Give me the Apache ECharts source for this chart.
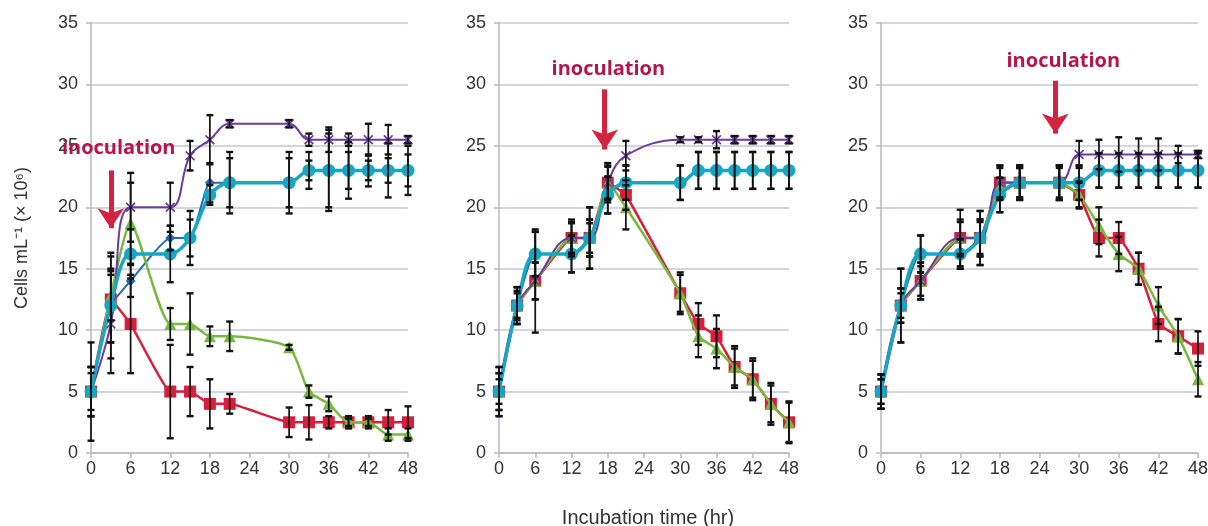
<!DOCTYPE html>
<html>
<head>
<meta charset="utf-8">
<script src="https://cdn.jsdelivr.net/npm/echarts@6/dist/echarts.min.js"></script>
<style>html,body{margin:0;padding:0;background:#fff}#c{width:1208px;height:526px}</style>
</head>
<body>
<div id="c"></div>
<script>
// ---------- data ----------
const hours1 = [0,3,6,12,15,18,21,30,33,36,39,42,45,48];
const hours2 = [0,3,6,12,15,18,21,30,33,36,39,42,45,48];
const hours3 = [0,3,6,12,15,18,21,27,30,33,36,39,42,45,48];

// panel 1
const blue1   = [5,12,14,17.5,17.5,22,22,22,23,23,23,23,23,23];
const red1    = [5,12.5,10.5,5,5,4,4,2.5,2.5,2.5,2.5,2.5,2.5,2.5];
const green1  = [5,12.8,18.7,10.5,10.5,9.5,9.5,8.6,5,4,2.5,2.5,1.5,1.5];
const purple1 = [5,10.5,20,20,24.2,25.5,26.8,26.8,25.5,25.5,25.5,25.5,25.5,25.5];
const cyan1   = [5,12,16.2,16.2,17.5,21,22,22,23,23,23,23,23,23];
const blueErr1   = [2,3,1.3,1,1.5,1.6,2,2,0.8,3,1.5,0.8,1,1.3];
const redErr1    = [4,3.5,4,3.8,2,2,0.8,1.2,1.4,0.5,0.5,0.5,1,1.3];
const greenErr1  = [2,2,3.3,1.3,2.5,0.8,1.2,0.2,0.5,0.6,0.3,0.3,0.5,0.5];
const purpleErr1 = [2,4,2.8,2,1.2,2,0.3,0.3,0.5,1,0.5,1.3,1.2,0.3];
const cyanErr1   = [1.5,4.3,2,2.3,2.2,0.8,2.5,2.5,1.5,3.3,2.3,1.3,2.2,2];

// panel 2
const blue2   = [5,12,16.2,16.2,17.5,21,22,22,23,23,23,23,23,23];
const red2    = [5,12,14,17.5,17.5,22,21,13,10.5,9.5,7,6,4,2.5];
const green2  = [5,12,14,17.5,17.5,22,20,13,9.5,8.5,7,6,4,2.5];
const purple2 = [5,12,14,17.5,17.5,22,24.2,25.5,25.5,25.5,25.5,25.5,25.5,25.5];
const cyan2   = [5,12,16.2,16.2,17.5,21,22,22,23,23,23,23,23,23];
const blueErr2   = [2,1.5,1.8,1.5,2.5,1.5,1.4,1.4,1.5,1.5,1.5,1.5,1.5,1.5];
const redErr2    = [1.5,1.5,4.2,1.5,1.5,1.6,1.2,1.7,1.7,1.7,1.7,1.7,1.7,1.7];
const greenErr2  = [1.5,1,1.5,1.2,1.2,1.4,1.8,1.5,1.7,1.6,1.5,1.5,1.5,1.6];
const purpleErr2 = [1,1.2,1.5,1.3,1.5,1.3,1.2,0.2,0.2,0.7,0.3,0.3,0.3,0.3];
const cyanErr2   = [2,1.5,1.8,1.5,2.5,1.5,1.4,1.4,1.5,1.5,1.5,1.5,1.5,1.5];

// panel 3
const blue3   = [5,12,16.2,16.2,17.5,21,22,22,22,23,23,23,23,23,23];
const red3    = [5,12,14,17.5,17.5,22,22,22,21,17.5,17.5,15,10.5,9.5,8.5];
const green3  = [5,12,14,17.5,17.5,22,22,22,21,18.5,16.2,15,12,9.5,6];
const purple3 = [5,12,14,17.5,17.5,22,22,22,24.3,24.3,24.3,24.3,24.3,24.3,24.3];
const cyan3   = [5,12,16.2,16.2,17.5,21,22,22,22,23,23,23,23,23,23];
const blueErr3   = [1.4,3,1.5,1.2,2.2,1.4,1.4,1.4,1.4,1.4,1.4,1.4,1.4,1.4,1.4];
const redErr3    = [1.4,1.4,1.5,2.3,1.5,1.4,1.4,1.4,1.1,1.5,1.3,1.3,1.4,1.4,1.4];
const greenErr3  = [1,1,1.5,1.3,1.5,1.2,1.2,1.2,1,1.5,1.4,1.3,1.5,1.4,1.4];
const purpleErr3 = [1,1.4,1.2,1.5,1.3,1.4,1.2,1.4,1.1,1.2,1.4,1.3,1.3,0.7,0.3];
const cyanErr3   = [1.4,3,1.5,1.2,2.2,1.4,1.4,1.4,1.4,1.4,1.4,1.4,1.4,1.4,1.4];

// annotations: [textX, textY, arrowX, arrowTopY, arrowTipY]
const inoc1 = [4.2, 24.8, 3, 23.0, 18.3];
const inoc2 = [18.1, 31.2, 17.5, 29.6, 24.7];
const inoc3 = [27.6, 31.9, 26.4, 30.3, 26.0];

const xTicks = [0,6,12,18,24,30,36,42,48];
const yTicks = [0,5,10,15,20,25,30,35];
const yName = 'Cells mL\u207B\u00B9 (\u00D7 10\u2076)';
const xName = 'Incubation time (hr)';

// ---------- styles ----------
const C = {blue:'#2468b4', red:'#d81e3c', green:'#78b83e', purple:'#6a3c9e', cyan:'#17a6c4'};
const crossPath = 'path://M0,1.2L1.2,0L5,3.8L8.8,0L10,1.2L6.2,5L10,8.8L8.8,10L5,6.2L1.2,10L0,8.8L3.8,5Z';

const panels = [
  {h:hours1, s:[blue1,red1,green1,purple1,cyan1], e:[blueErr1,redErr1,greenErr1,purpleErr1,cyanErr1], a:inoc1, left:91, width:317},
  {h:hours2, s:[blue2,red2,green2,purple2,cyan2], e:[blueErr2,redErr2,greenErr2,purpleErr2,cyanErr2], a:inoc2, left:499, width:290},
  {h:hours3, s:[blue3,red3,green3,purple3,cyan3], e:[blueErr3,redErr3,greenErr3,purpleErr3,cyanErr3], a:inoc3, left:881, width:317}
];
const styles = [
  {c:C.blue, sym:'diamond', size:10, w:2, smooth:0.15},
  {c:C.red, sym:'rect', size:12, w:2.5, smooth:0.1},
  {c:C.green, sym:'triangle', size:12, w:2.5, smooth:0.2},
  {c:C.purple, sym:crossPath, size:10, w:2, smooth:0.4},
  {c:C.cyan, sym:'circle', size:13, w:3.5, smooth:0.3}
];

const grids = [], xAxes = [], yAxes = [], series = [];
const labelFont = {fontFamily:'Liberation Sans, Arial, sans-serif', fontSize:18, color:'#333'};

panels.forEach((p, i) => {
  grids.push({left:p.left, top:23, width:p.width, height:430, outerBoundsMode:'none', containLabel:false});
  xAxes.push({
    type:'value', gridIndex:i, min:0, max:48, interval:6,
    axisLine:{show:true, lineStyle:{color:'#b4b9c4', width:1.5}},
    axisTick:{show:true, length:5, lineStyle:{color:'#b4b9c4', width:1.5}},
    splitLine:{show:false},
    axisLabel:Object.assign({margin:7, formatter:v => xTicks.includes(v) ? String(v) : ''}, labelFont),
    name: i === 1 ? xName : '', nameLocation:'middle', nameGap:55,
    nameTextStyle:{fontFamily:'Liberation Sans, Arial, sans-serif', fontSize:20, color:'#333', padding:[0,0,0,8]}
  });
  yAxes.push({
    type:'value', gridIndex:i, min:0, max:35, interval:5,
    axisLine:{show:true, lineStyle:{color:'#b4b9c4', width:1.5}},
    axisTick:{show:true, length:5, lineStyle:{color:'#b4b9c4', width:1.5}},
    splitLine:{show:true, lineStyle:{color:'#c3c9d4', width:1.5}},
    axisLabel:Object.assign({margin:13, formatter:v => yTicks.includes(v) ? String(v) : ''}, labelFont),
    name: i === 0 ? yName : '', nameLocation:'middle', nameGap:60, nameRotate:90,
    nameTextStyle:{fontFamily:'Liberation Sans, Arial, sans-serif', fontSize:18, color:'#333'}
  });

  p.s.forEach((vals, k) => {
    const st = styles[k];
    const ser = {
      type:'line', xAxisIndex:i, yAxisIndex:i, z:2 + k*0.1,
      data: p.h.map((x, j) => [x, vals[j]]),
      smooth: st.smooth, symbol: st.sym, symbolSize: st.size, showAllSymbol:true,
      lineStyle:{color:st.c, width:st.w},
      itemStyle:{color:st.c, opacity:1},
      emphasis:{disabled:true}, silent:true
    };
    if (k === 4) {
      const a = p.a;
      ser.markLine = {
        silent:true, animation:false, symbol:['none','arrow'], symbolSize:[20,20],
        lineStyle:{color:'#d4233f', width:5, type:'solid', opacity:1},
        label:{show:false},
        data:[[{coord:[a[2], a[3]]},{coord:[a[2], a[4]]}]]
      };
      ser.markPoint = {
        silent:true, animation:false, symbol:'rect', symbolSize:1, itemStyle:{color:'rgba(0,0,0,0)'},
        label:{show:true, position:'inside', formatter:'inoculation', color:'#b3164a',
               fontFamily:'Open Sans, sans-serif', fontWeight:'bold', fontSize:20},
        data:[{coord:[a[0], a[1]]}]
      };
    }
    series.push(ser);
  });

  // error bars
  const errData = [];
  p.s.forEach((vals, k) => {
    p.h.forEach((x, j) => {
      const e = p.e[k][j];
      errData.push([x, vals[j] - e, vals[j] + e]);
    });
  });
  series.push({
    type:'custom', xAxisIndex:i, yAxisIndex:i, z:3, silent:true,
    data: errData, encode:{x:0, y:[1,2]},
    renderItem: function(params, api) {
      const x = api.value(0);
      const lo = api.coord([x, api.value(1)]);
      const hi = api.coord([x, api.value(2)]);
      const w = 3.5;
      const s = {stroke:'#111', lineWidth:1.7};
      return {type:'group', children:[
        {type:'line', shape:{x1:lo[0], y1:lo[1], x2:hi[0], y2:hi[1]}, style:s},
        {type:'line', shape:{x1:lo[0]-w, y1:lo[1], x2:lo[0]+w, y2:lo[1]}, style:{stroke:'#111', lineWidth:2.4}},
        {type:'line', shape:{x1:hi[0]-w, y1:hi[1], x2:hi[0]+w, y2:hi[1]}, style:{stroke:'#111', lineWidth:2.4}}
      ]};
    }
  });
});

const chart = echarts.init(document.getElementById('c'), null, {renderer:'canvas'});
chart.setOption({
  animation:false,
  backgroundColor:'#fff',
  grid:grids, xAxis:xAxes, yAxis:yAxes, series:series
});
</script>
</body>
</html>
